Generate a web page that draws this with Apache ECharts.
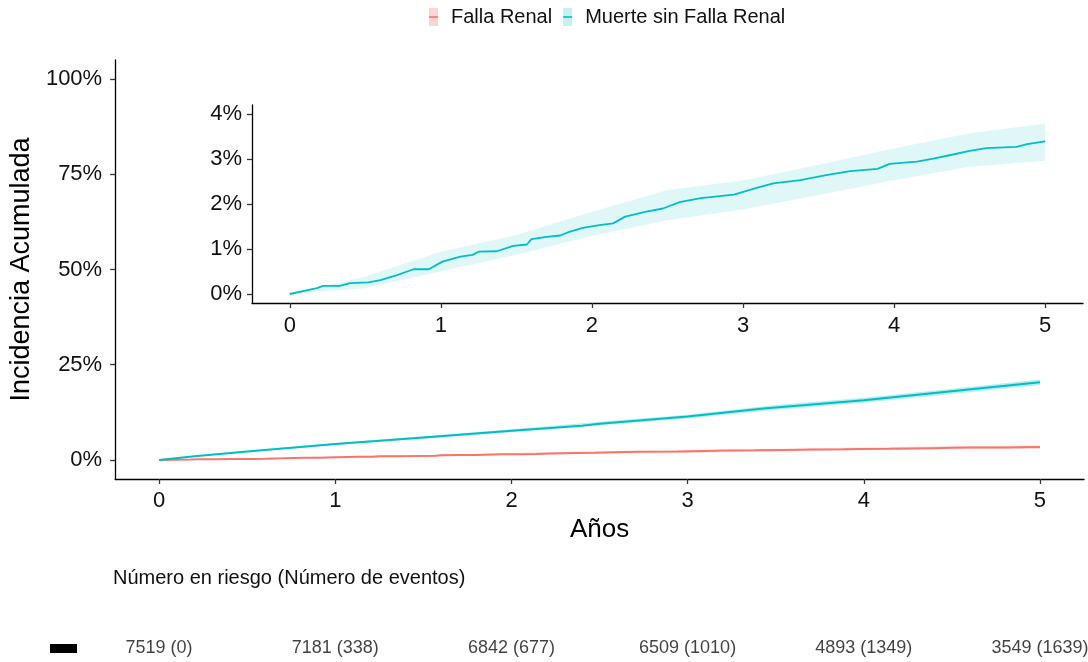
<!DOCTYPE html>
<html><head><meta charset="utf-8">
<script src="https://cdn.jsdelivr.net/npm/echarts@6/dist/echarts.min.js"></script>
<style>html,body{margin:0;padding:0;background:#fff}#c{width:1088px;height:662px}</style>
</head><body><div id="c"></div>
<script>
// ---- data ----
const years = [0, 1, 2, 3, 4, 5];
const yTicksMain = [0, 25, 50, 75, 100];
const yTicksInset = [0, 1, 2, 3, 4];
const riskN = [7519, 7181, 6842, 6509, 4893, 3549];
const riskEvents = [0, 338, 677, 1010, 1349, 1639];

// Falla Renal cumulative incidence (%), drawn in the inset and in the main panel
const frT = [0, 0.18, 0.22, 0.33, 0.40, 0.52, 0.60, 0.71, 0.82, 0.92, 1.01, 1.13, 1.21, 1.25, 1.37, 1.48, 1.57, 1.60, 1.70, 1.79, 1.85, 1.94, 2.05, 2.14, 2.22, 2.36, 2.47, 2.58, 2.72, 2.94, 3.09, 3.20, 3.38, 3.55, 3.71, 3.89, 3.97, 4.15, 4.26, 4.39, 4.50, 4.61, 4.81, 4.88, 5.0];
const frV = [0, 0.13, 0.18, 0.18, 0.24, 0.26, 0.31, 0.42, 0.55, 0.55, 0.72, 0.83, 0.87, 0.94, 0.95, 1.07, 1.10, 1.22, 1.27, 1.30, 1.38, 1.47, 1.53, 1.57, 1.72, 1.83, 1.90, 2.04, 2.13, 2.21, 2.36, 2.46, 2.53, 2.64, 2.73, 2.78, 2.89, 2.94, 3.01, 3.10, 3.18, 3.24, 3.27, 3.33, 3.39];
const bandT = [0, 0.5, 1, 1.5, 2, 2.5, 3, 3.5, 4, 4.5, 5];
const frLo = [0, 0.13, 0.50, 0.87, 1.29, 1.64, 1.88, 2.20, 2.53, 2.83, 2.96];
const frHi = [0, 0.39, 0.94, 1.31, 1.83, 2.31, 2.52, 2.87, 3.24, 3.57, 3.79];

// Muerte sin Falla Renal (%)
const msT = [0, 0.2, 0.5, 1.0, 1.5, 2.0, 2.4, 2.5, 3.0, 3.43, 4.0, 4.47, 5.0];
const msV = [0, 1.0, 2.2, 4.18, 5.9, 7.65, 8.96, 9.5, 11.4, 13.5, 15.7, 17.9, 20.4];
const msLo = [0, 2.0, 3.9, 5.55, 7.25, 9.1, 10.9, 13.2, 15.05, 17.3, 19.7];
const msHi = [0, 2.4, 4.45, 6.25, 8.05, 10.0, 11.9, 14.4, 16.35, 18.7, 21.1];

const RED = '#F8766D', TEAL = '#00BFC4';
const FONT = 'Liberation Sans, Arial, sans-serif';

function bandSeries(xi, yi, T, lo, hi, color) {
  return {
    type: 'custom', xAxisIndex: xi, yAxisIndex: yi, silent: true, z: 1,
    data: T.map((t, i) => [t, lo[i], hi[i]]),
    encode: { x: 0, y: [1, 2] },
    renderItem: (params, api) => {
      if (params.dataIndex !== 0) return { type: 'group', children: [] };
      const pts = [];
      for (let i = 0; i < T.length; i++) pts.push(api.coord([T[i], hi[i]]));
      for (let i = T.length - 1; i >= 0; i--) pts.push(api.coord([T[i], lo[i]]));
      return { type: 'polygon', shape: { points: pts }, style: { fill: color } };
    }
  };
}
function lineSeries(name, xi, yi, T, V, color, w) {
  return {
    name, type: 'line', xAxisIndex: xi, yAxisIndex: yi, z: 3,
    data: T.map((t, i) => [t, V[i]]), showSymbol: false, symbol: 'none',
    lineStyle: { color, width: w }, itemStyle: { color }, silent: true
  };
}
function xAx(gi, labels, margin, extra) {
  return Object.assign({
    gridIndex: gi, type: 'value', min: -0.25, max: 5.25,
    axisLine: { onZero: false, lineStyle: { color: '#000', width: 1.3 } },
    axisTick: { customValues: labels, length: 5, lineStyle: { color: '#333', width: 1.3 } },
    axisLabel: { customValues: labels, fontSize: 22, color: '#111', margin, fontFamily: FONT },
    splitLine: { show: false }
  }, extra || {});
}
function yAx(gi, min, max, labels, margin, extra) {
  return Object.assign({
    gridIndex: gi, type: 'value', min, max,
    axisLine: { show: true, onZero: false, lineStyle: { color: '#000', width: 1.3 } },
    axisTick: { show: true, customValues: labels, length: 5, lineStyle: { color: '#333', width: 1.3 } },
    axisLabel: { customValues: labels, fontSize: 22, color: '#111', margin, fontFamily: FONT, formatter: v => v + '%' },
    splitLine: { show: false }
  }, extra || {});
}

const legendBase = {
  left: 424, top: 2, orient: 'horizontal', itemWidth: 9, itemGap: 11, icon: 'rect', selectedMode: false,
  textStyle: { fontSize: 20, fontFamily: FONT, padding: [0, 0, 0, 8] }
};

const option = {
  backgroundColor: '#fff',
  animation: false,
  textStyle: { fontFamily: FONT },
  title: {
    text: 'Número en riesgo (Número de eventos)', left: 108, top: 563,
    textStyle: { fontSize: 20, fontWeight: 'normal', color: '#111', fontFamily: FONT }
  },
  legend: [
    Object.assign({}, legendBase, {
      itemHeight: 18,
      textStyle: Object.assign({}, legendBase.textStyle, { color: '#111' }),
      data: [
        { name: 'Falla Renal', itemStyle: { color: '#FCD5D2', borderWidth: 0 } },
        { name: 'Muerte sin Falla Renal', itemStyle: { color: '#C6F0F1', borderWidth: 0 } }
      ]
    }),
    Object.assign({}, legendBase, {
      itemHeight: 2,
      textStyle: Object.assign({}, legendBase.textStyle, { color: 'rgba(0,0,0,0)' }),
      data: [
        { name: 'Falla Renal', itemStyle: { color: '#F58A82', borderWidth: 0 } },
        { name: 'Muerte sin Falla Renal', itemStyle: { color: '#2EC6CA', borderWidth: 0 } }
      ]
    })
  ],
  grid: [
    { left: 115, right: 4, top: 60, bottom: 183 },
    { left: 252, right: 5, top: 105, bottom: 359 },
    { left: 115, right: 4, top: 634, bottom: 0 }
  ],
  xAxis: [
    xAx(0, years, 11, { name: 'Años', nameLocation: 'middle', nameGap: 38, nameTextStyle: { fontSize: 26, color: '#000', fontFamily: FONT } }),
    xAx(1, years, 12),
    { gridIndex: 2, type: 'value', min: -0.25, max: 5.25, show: false }
  ],
  yAxis: [
    yAx(0, -5, 105, yTicksMain, 13, { name: 'Incidencia Acumulada', nameLocation: 'middle', nameGap: 79, nameRotate: 90, nameTextStyle: { fontSize: 27, color: '#000', fontFamily: FONT } }),
    yAx(1, -0.2, 4.2, yTicksInset, 10),
    { gridIndex: 2, type: 'value', min: 0, max: 1, show: false }
  ],
  graphic: [
    { type: 'rect', left: 50, top: 644, shape: { width: 27, height: 9 }, style: { fill: '#000' } }
  ],
  series: [
    bandSeries(0, 0, bandT, msLo, msHi, 'rgba(0,191,196,0.28)'),
    bandSeries(0, 0, bandT, frLo, frHi, 'rgba(248,118,109,0.25)'),
    lineSeries('Falla Renal', 0, 0, frT, frV, RED, 2),
    lineSeries('Muerte sin Falla Renal', 0, 0, msT, msV, TEAL, 2),
    bandSeries(1, 1, bandT, frLo, frHi, 'rgba(0,191,196,0.12)'),
    lineSeries('Muerte sin Falla Renal', 1, 1, frT, frV, TEAL, 1.8),
    {
      type: 'scatter', xAxisIndex: 2, yAxisIndex: 2, silent: true,
      symbolSize: 1, itemStyle: { color: 'rgba(0,0,0,0)' },
      data: years.map(y => [y, 0.5]),
      label: {
        show: true, position: 'inside', fontSize: 18, color: '#111', fontFamily: FONT,
        formatter: p => riskN[p.dataIndex] + ' (' + riskEvents[p.dataIndex] + ')'
      }
    }
  ]
};

echarts.init(document.getElementById('c'), null, { renderer: 'canvas' }).setOption(option);
</script>
</body></html>
